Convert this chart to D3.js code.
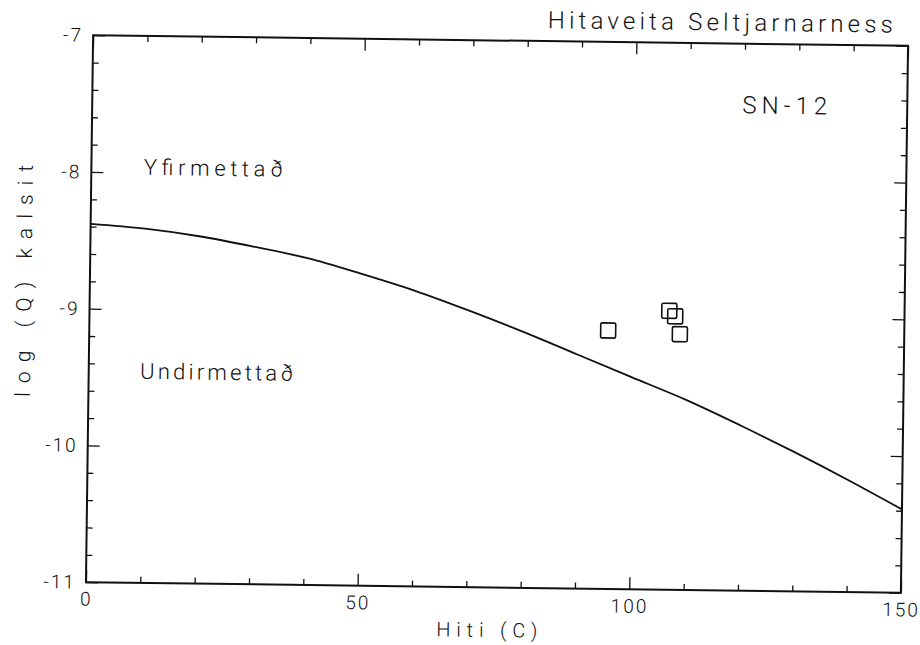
<!DOCTYPE html>
<html>
<head>
<meta charset="utf-8">
<script src="https://cdn.jsdelivr.net/npm/d3@7"></script>
<style>
  html, body { margin: 0; padding: 0; background: #fff; }
  svg { display: block; }
  text { font-family: Roboto, "DejaVu Sans", sans-serif; font-weight: 300; fill: #111; }
</style>
</head>
<body>
<svg id="chart" width="920" height="645"></svg>
<script>
// ---- data ----
const curveTemps = [0, 10, 20, 30, 40, 50, 60, 70, 80, 90, 100, 110, 120, 130, 140, 150];
const curveLogQ  = [-8.38, -8.41, -8.46, -8.53, -8.61, -8.72, -8.84, -8.98, -9.13, -9.29, -9.45, -9.61, -9.79, -9.98, -10.18, -10.39];
const sampleTemps = [95.5, 106.7, 107.8, 108.7];
const sampleLogQ  = [-9.11, -8.96, -9.00, -9.13];
const xMajorTicks = [0, 50, 100, 150];
const xMinorTicks = [10, 20, 30, 40, 60, 70, 80, 90, 110, 120, 130, 140];
const yMajorTicks = [-7, -8, -9, -10, -11];
const yMinorTicks = [-7.2, -7.4, -7.6, -7.8, -8.2, -8.4, -8.6, -8.8, -9.2, -9.4, -9.6, -9.8, -10.2, -10.4, -10.6, -10.8];
const titleText = "Hitaveita Seltjarnarness";
const wellText = "SN-12";
const overText = "Yfirmettað";
const underText = "Undirmettað";
const xLabel = "Hiti (C)";
const yLabel = "log (Q) kalsit";

// ---- layout ----
const L = 89.5, R = 904.5, T = 40.5, B = 587.5;
const svg = d3.select("#chart");
const root = svg.append("g").attr("transform", "rotate(0.75, 497, 314)");

const x = d3.scaleLinear().domain([0, 150]).range([L, R]);
const y = d3.scaleLinear().domain([-11, -7]).range([B, T]);

function styleAxis(g) {
  g.select(".domain").remove();
  g.selectAll(".tick line").attr("stroke", "#111").attr("stroke-width", 1.3);
  g.selectAll(".tick text").attr("font-family", "Roboto").attr("font-weight", 300).attr("font-size", 19)
    .attr("fill", "#111").attr("letter-spacing", "2px");
}

// bottom
root.append("g").attr("transform", `translate(0,${B})`)
  .call(d3.axisBottom(x).tickValues(xMajorTicks).tickSize(-12).tickPadding(10).tickFormat(d3.format("d")))
  .call(styleAxis);
root.append("g").attr("transform", `translate(0,${B})`)
  .call(d3.axisBottom(x).tickValues(xMinorTicks).tickSize(-6).tickFormat(""))
  .call(styleAxis);
// top
root.append("g").attr("transform", `translate(0,${T})`)
  .call(d3.axisTop(x).tickValues(xMajorTicks).tickSize(-12).tickFormat(""))
  .call(styleAxis);
root.append("g").attr("transform", `translate(0,${T})`)
  .call(d3.axisTop(x).tickValues(xMinorTicks).tickSize(-6).tickFormat(""))
  .call(styleAxis);
// left
root.append("g").attr("transform", `translate(${L},0)`)
  .call(d3.axisLeft(y).tickValues(yMajorTicks).tickSize(-12).tickPadding(10).tickFormat(d => "-" + Math.abs(d)))
  .call(styleAxis);
root.append("g").attr("transform", `translate(${L},0)`)
  .call(d3.axisLeft(y).tickValues(yMinorTicks).tickSize(-6).tickFormat(""))
  .call(styleAxis);
// right
root.append("g").attr("transform", `translate(${R},0)`)
  .call(d3.axisRight(y).tickValues(yMajorTicks).tickSize(-12).tickFormat(""))
  .call(styleAxis);
root.append("g").attr("transform", `translate(${R},0)`)
  .call(d3.axisRight(y).tickValues(yMinorTicks).tickSize(-6).tickFormat(""))
  .call(styleAxis);

// frame
root.append("rect").attr("x", L).attr("y", T).attr("width", R - L).attr("height", B - T)
  .attr("fill", "none").attr("stroke", "#111").attr("stroke-width", 2);

// saturation curve
const line = d3.line().x((d, i) => x(curveTemps[i])).y(d => y(d)).curve(d3.curveMonotoneX);
root.append("path").datum(curveLogQ).attr("d", line)
  .attr("fill", "none").attr("stroke", "#111").attr("stroke-width", 1.8);

// sample squares
const sq = 15;
root.selectAll("rect.sample").data(sampleTemps).enter().append("rect")
  .attr("class", "sample")
  .attr("x", d => x(d) - sq / 2)
  .attr("y", (d, i) => y(sampleLogQ[i]) - sq / 2)
  .attr("width", sq).attr("height", sq).attr("rx", 1.5)
  .attr("fill", "none").attr("stroke", "#111").attr("stroke-width", 1.6);

// texts
root.append("text").attr("x", 544).attr("y", 27.5).attr("font-size", 24)
  .attr("textLength", 345).attr("lengthAdjust", "spacing").text(titleText);
root.append("text").attr("x", 782).attr("y", 110).attr("text-anchor", "middle").attr("font-size", 24)
  .attr("textLength", 85).attr("lengthAdjust", "spacing").text(wellText);
root.append("text").attr("x", 142).attr("y", 179.5).attr("font-size", 22)
  .attr("textLength", 139).attr("lengthAdjust", "spacing").text(overText);
root.append("text").attr("x", 141).attr("y", 383.5).attr("font-size", 22)
  .attr("textLength", 153).attr("lengthAdjust", "spacing").text(underText);
root.append("text").attr("x", 491).attr("y", 637).attr("text-anchor", "middle").attr("font-size", 20)
  .attr("textLength", 101).attr("lengthAdjust", "spacing").text(xLabel);
root.append("text").attr("transform", "translate(31,287) rotate(-90)").attr("text-anchor", "middle").attr("font-size", 21)
  .attr("textLength", 232).attr("lengthAdjust", "spacing").text(yLabel);
</script>
</body>
</html>
